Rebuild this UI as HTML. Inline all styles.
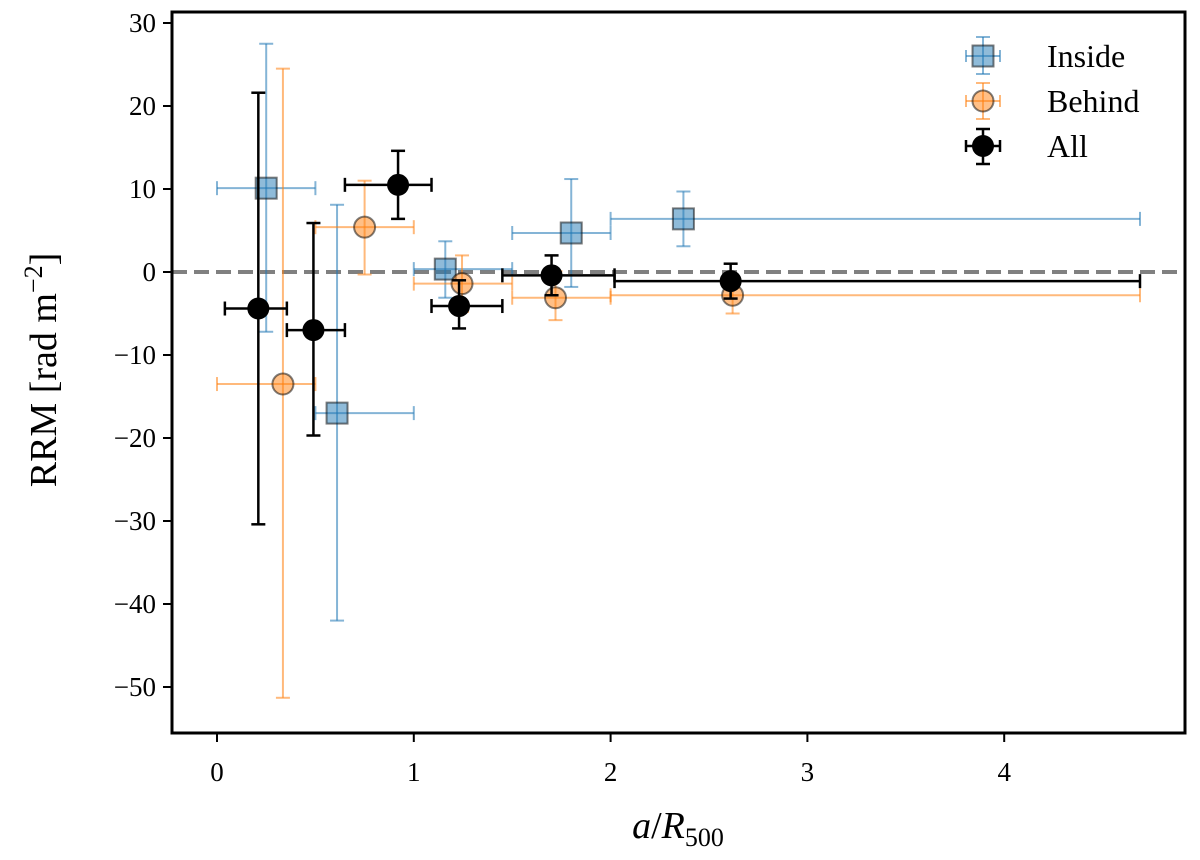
<!DOCTYPE html>
<html><head><meta charset="utf-8"><style>
body{margin:0;background:#fff}
svg text{font-family:"Liberation Serif",serif;fill:#000}
</style></head><body>
<svg id="c" width="1200" height="855" xmlns="http://www.w3.org/2000/svg"></svg>
<script>
// Inside
const inX=[0.25,0.61,1.16,1.80,2.37];
const inY=[10.1,-17,0.35,4.7,6.4];
const inXlo=[0,0.5,1.0,1.5,2.0];
const inXhi=[0.5,1.0,1.5,2.0,4.69];
const inYlo=[-7.2,-42,-3.1,-1.8,3.1];
const inYhi=[27.5,8.1,3.7,11.2,9.7];
// Behind
const bhX=[0.335,0.75,1.245,1.72,2.62];
const bhY=[-13.5,5.4,-1.4,-3.1,-2.8];
const bhXlo=[0,0.5,1.0,1.5,2.0];
const bhXhi=[0.5,1.0,1.5,2.0,4.69];
const bhYlo=[-51.3,-0.3,-4.8,-5.8,-5.0];
const bhYhi=[24.5,11,2.0,0.1,-0.6];
// All
const alX=[0.21,0.49,0.92,1.23,1.70,2.61];
const alY=[-4.4,-7.0,10.5,-4.1,-0.4,-1.1];
const alXlo=[0.04,0.355,0.65,1.09,1.45,2.02];
const alXhi=[0.355,0.65,1.09,1.45,2.02,4.69];
const alYlo=[-30.4,-19.7,6.4,-6.8,-2.8,-3.2];
const alYhi=[21.6,5.9,14.6,-1.0,2.0,1.0];
const xTicks=[0,1,2,3,4];
const yTicks=[30,20,10,0,-10,-20,-30,-40,-50];

const L=172,R=1185,T=12,B=733;
const sx=v=>217+v*196.8, sy=v=>272-v*8.3;
const svg=document.getElementById('c'), NS='http://www.w3.org/2000/svg';
function el(t,a,p){const e=document.createElementNS(NS,t);for(const k in a)e.setAttribute(k,a[k]);(p||svg).appendChild(e);return e;}

const z=el('line',{x1:L,x2:R,y1:sy(0),y2:sy(0),stroke:'#808080','stroke-width':4,'stroke-dasharray':'15 7'});



function series(name,X,Y,xlo,xhi,ylo,yhi,col,sw,cap,marker,op){
  const g=el('g',{});
  
  
  X.forEach((x,i)=>{
    const p=el('g',{},g);
    
    
    const cx=sx(x),cy=sy(Y[i]),a=sx(xlo[i]),b=sx(xhi[i]),c=sy(yhi[i]),d=sy(ylo[i]);
    const ea={stroke:col,'stroke-width':sw,'stroke-opacity':op};
    el('line',Object.assign({x1:a,x2:b,y1:cy,y2:cy},ea),p);
    el('line',Object.assign({x1:cx,x2:cx,y1:c,y2:d},ea),p);
    el('line',Object.assign({x1:a,x2:a,y1:cy-cap,y2:cy+cap},ea),p);
    el('line',Object.assign({x1:b,x2:b,y1:cy-cap,y2:cy+cap},ea),p);
    el('line',Object.assign({x1:cx-cap,x2:cx+cap,y1:c,y2:c},ea),p);
    el('line',Object.assign({x1:cx-cap,x2:cx+cap,y1:d,y2:d},ea),p);
    marker(p,cx,cy);
  });
}
const sq=(p,x,y)=>el('rect',{x:x-10.5,y:y-10.5,width:21,height:21,fill:'rgba(31,119,180,0.5)',stroke:'rgba(0,0,0,0.5)','stroke-width':2},p);
const ci=(p,x,y)=>el('circle',{cx:x,cy:y,r:10.5,fill:'rgba(255,127,14,0.5)',stroke:'rgba(0,0,0,0.5)','stroke-width':2},p);
const bk=(p,x,y)=>el('circle',{cx:x,cy:y,r:11,fill:'#000'},p);
series('inside',inX,inY,inXlo,inXhi,inYlo,inYhi,'#1f77b4',2,7,sq,0.55);
series('behind',bhX,bhY,bhXlo,bhXhi,bhYlo,bhYhi,'#ff7f0e',2,7,ci,0.55);
series('all',alX,alY,alXlo,alXhi,alYlo,alYhi,'#000',2.5,7,bk,1);

const f=el('rect',{x:L,y:T,width:R-L,height:B-T,fill:'none',stroke:'#000','stroke-width':3});



xTicks.forEach(v=>{
  el('line',{x1:sx(v),x2:sx(v),y1:B,y2:B+9,stroke:'#000','stroke-width':2});
  const t=el('text',{x:sx(v),y:B+48,'font-size':27,'text-anchor':'middle'});t.textContent=v;
  
  
});
yTicks.forEach(v=>{
  el('line',{x1:L-9,x2:L,y1:sy(v),y2:sy(v),stroke:'#000','stroke-width':2});
  const t=el('text',{x:L-16,y:sy(v)+9,'font-size':27,'text-anchor':'end'});t.textContent=(v<0?'\u2212'+(-v):v);
  
  
});
</script>
<svg style="position:absolute;left:0;top:0" width="1200" height="855" xmlns="http://www.w3.org/2000/svg">
<text x="678" y="838" font-size="38" text-anchor="middle"><tspan font-style="italic">a</tspan>/<tspan font-style="italic">R</tspan><tspan font-size="26" dy="8">500</tspan></text>
<text transform="translate(56,370) rotate(-90)" font-size="38" text-anchor="middle">RRM [rad m<tspan font-size="26" dy="-14">−2</tspan><tspan dy="14">]</tspan></text>
<g>
 <g stroke="#1f77b4" stroke-opacity="0.55" stroke-width="2">
  <line x1="966" x2="1000" y1="56" y2="56"/><line x1="983" x2="983" y1="37" y2="74"/>
  <line x1="966" x2="966" y1="50" y2="62"/><line x1="1000" x2="1000" y1="50" y2="62"/>
  <line x1="976" x2="990" y1="37" y2="37"/><line x1="976" x2="990" y1="74" y2="74"/>
  <rect x="972.5" y="45.5" width="21" height="21" fill="rgba(31,119,180,0.5)" stroke="rgba(0,0,0,0.5)" stroke-opacity="1"/>
 </g>
 <text x="1047" y="67" font-size="32">Inside</text>
 <g stroke="#ff7f0e" stroke-opacity="0.55" stroke-width="2">
  <line x1="966" x2="1000" y1="101" y2="101"/><line x1="983" x2="983" y1="83" y2="119"/>
  <line x1="966" x2="966" y1="95" y2="107"/><line x1="1000" x2="1000" y1="95" y2="107"/>
  <line x1="976" x2="990" y1="83" y2="83"/><line x1="976" x2="990" y1="119" y2="119"/>
  <circle cx="983" cy="101" r="10.5" fill="rgba(255,127,14,0.5)" stroke="rgba(0,0,0,0.5)" stroke-opacity="1"/>
 </g>
 <text x="1047" y="112" font-size="32">Behind</text>
 <g stroke="#000" stroke-width="2.5">
  <line x1="966" x2="1000" y1="146" y2="146"/><line x1="983" x2="983" y1="129" y2="164"/>
  <line x1="966" x2="966" y1="140" y2="152"/><line x1="1000" x2="1000" y1="140" y2="152"/>
  <line x1="976" x2="990" y1="129" y2="129"/><line x1="976" x2="990" y1="164" y2="164"/>
  <circle cx="983" cy="146" r="11" fill="#000" stroke="none"/>
 </g>
 <text x="1047" y="157" font-size="32">All</text>
</g>
</svg>
</body></html>
